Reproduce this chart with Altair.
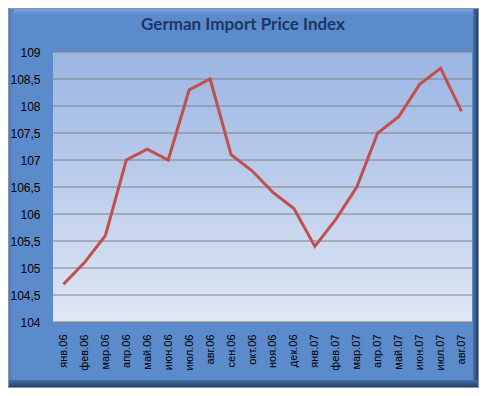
import altair as alt
import pandas as pd

months = ["янв.06", "фев.06", "мар.06", "апр.06", "май.06", "июн.06", "июл.06", "авг.06",
          "сен.06", "окт.06", "ноя.06", "дек.06", "янв.07", "фев.07", "мар.07", "апр.07",
          "май.07", "июн.07", "июл.07", "авг.07"]
values = [104.7, 105.1, 105.6, 107.0, 107.2, 107.0, 108.3, 108.5, 107.1, 106.8,
          106.4, 106.1, 105.4, 105.9, 106.5, 107.5, 107.8, 108.4, 108.7, 107.9]
y_ticks = [104, 104.5, 105, 105.5, 106, 106.5, 107, 107.5, 108, 108.5, 109]
title_text = ["German Import Price Index"]

W, H = 419, 270
PL, PT, PR, PB = 45, 44, 7, 66

df = pd.DataFrame({"month": months, "value": values})
grid_df = pd.DataFrame({"v": y_ticks})
one = pd.DataFrame({"k": [0]})


def grad(c1, c2, horizontal=False):
    return alt.Gradient(
        gradient="linear",
        stops=[alt.GradientStop(color=c1, offset=0), alt.GradientStop(color=c2, offset=1)],
        x1=0, y1=0, x2=1 if horizontal else 0, y2=0 if horizontal else 1,
    )


def box(x1, x2, y1, y2, fill):
    return alt.Chart(one).mark_rect(fill=fill).encode(
        x=alt.value(x1), x2=alt.value(x2), y=alt.value(y1), y2=alt.value(y2)
    )


fl, ft, fr, fb = -PL, -PT, W + PR, H + PB

bevels = [
    box(fl, fr, ft, ft + 7, grad("#7EA6DC", "#5B8BCB")),
    box(fl, fl + 6, ft, fb, grad("#4C79B6", "#5F8ECD", horizontal=True)),
    box(fr - 6, fr, ft, fb, grad("#4A74AC", "#1F3354", horizontal=True)),
    box(fl, fr, fb - 8, fb, grad("#4670A6", "#22395C")),
    alt.Chart(one).mark_rect(fill="transparent", stroke="#8496AE", strokeWidth=1).encode(
        x=alt.value(fl + 0.5), x2=alt.value(fr - 0.5), y=alt.value(ft + 0.5), y2=alt.value(fb - 0.5)
    ),
]

plot_bg = box(0, W, 0, H, grad("#9AB5E3", "#E0E7F4"))

yscale = alt.Scale(domain=[104, 109], nice=False, zero=False)
y_axis = alt.Axis(values=y_ticks, labelPadding=13, ticks=False, domain=False, grid=False,
                  labelFont="Liberation Sans", labelFontSize=12, labelColor="#000000",
                  zindex=1, labelExpr="replace(toString(datum.value), '.', ',')")

grid = alt.Chart(grid_df).mark_rule(color="#808080", strokeWidth=1).encode(
    y=alt.Y("v:Q", scale=yscale, axis=y_axis, title=None)
)

line = alt.Chart(df).mark_line(color="#C0504D", strokeWidth=3).encode(
    x=alt.X("month:N", sort=months, title=None,
            axis=alt.Axis(labelAngle=270, labelPadding=12, ticks=False, domain=False,
                          labelFont="Liberation Sans", labelFontSize=11, labelColor="#000000",
                          grid=False, zindex=1)),
    y=alt.Y("value:Q", scale=yscale, title=None, axis=y_axis),
)

title = alt.Chart(pd.DataFrame({"t": title_text})).mark_text(
    font="Lato", fontSize=17, fontWeight="bold", color="#1B3766",
    align="center", baseline="middle"
).encode(text="t:N", x=alt.value(190), y=alt.value(-27))

chart = alt.layer(*bevels, plot_bg, grid, line, title).properties(
    width=W, height=H,
    padding={"left": PL, "top": PT, "right": PR, "bottom": PB},
    autosize=alt.AutoSizeParams(type="none"),
    background="#5B8BCB",
).configure_view(stroke=None)

chart.save("out.html", embed_options={"renderer": "svg", "actions": False})
